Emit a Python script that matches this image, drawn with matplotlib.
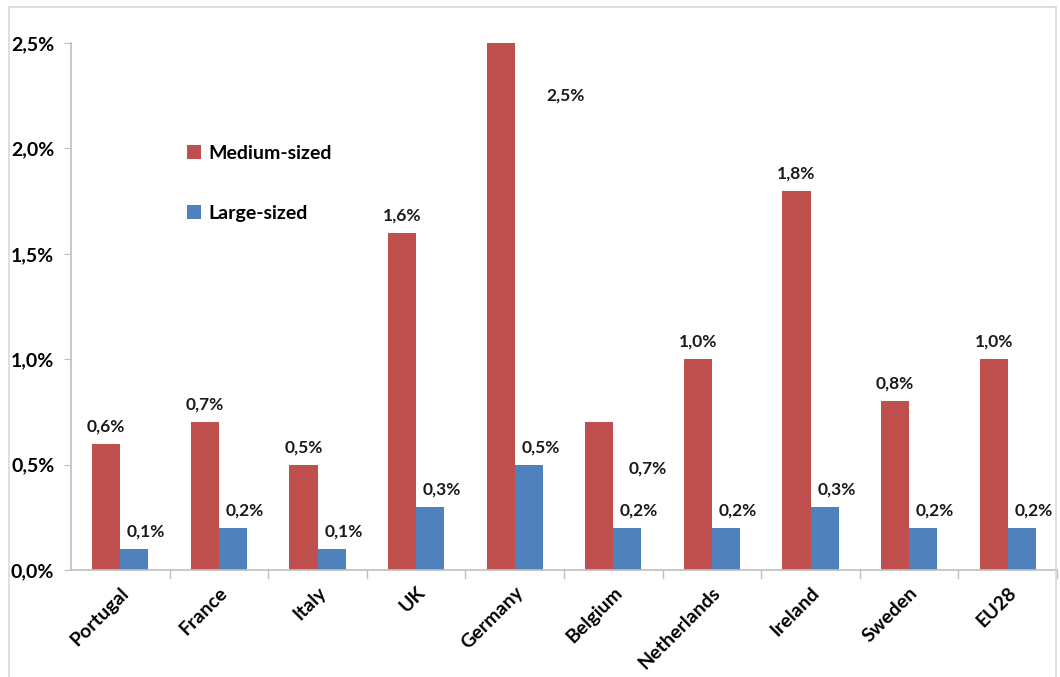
import matplotlib.pyplot as plt
import numpy as np
from matplotlib.patches import Rectangle

countries = ["Portugal", "France", "Italy", "UK", "Germany", "Belgium",
             "Netherlands", "Ireland", "Sweden", "EU28"]
medium = [0.6, 0.7, 0.5, 1.6, 2.5, 0.7, 1.0, 1.8, 0.8, 1.0]
large = [0.1, 0.2, 0.1, 0.3, 0.5, 0.2, 0.2, 0.3, 0.2, 0.2]
yticks = [0.0, 0.5, 1.0, 1.5, 2.0, 2.5]

RED = "#C0504D"
BLUE = "#4F81BD"
GRID = "#BFBFBF"
FONT = "Lato"

def pct(v):
    return f"{v:.1f}%".replace(".", ",")

fig = plt.figure(figsize=(10.6, 6.77), dpi=100)
fig.patches.append(Rectangle((9 / 1060, -0.01), 1047 / 1060, 1 - 7 / 677 + 0.01,
                             transform=fig.transFigure, fill=False,
                             edgecolor="#D9D9D9", linewidth=1.2))
ax = fig.add_axes([71 / 1060, 1 - 570 / 677, 986 / 1060, (570 - 43) / 677])

x = np.arange(len(countries))
w = 0.285
ax.bar(x - w / 2, medium, w, color=RED, label="Medium-sized")
ax.bar(x + w / 2, large, w, color=BLUE, label="Large-sized")

ax.set_xlim(-0.5, len(countries) - 0.5)
ax.set_ylim(0, 2.5)
ax.set_yticks(yticks)
ax.set_yticklabels([pct(v) for v in yticks], fontsize=14,
                   fontweight="bold", family=FONT)
ax.set_xticks(x)
ax.set_xticklabels(countries, rotation=45, ha="right", rotation_mode="anchor",
                   fontsize=14, fontweight="bold", family=FONT)
ax.tick_params(axis="x", length=0, pad=10)
ax.tick_params(axis="y", length=5, color=GRID, pad=7)
for b in np.arange(0.5, len(countries), 1.0):
    ax.plot([b, b], [0, -0.04], color=GRID, lw=1, clip_on=False)

for s in ["top", "right"]:
    ax.spines[s].set_visible(False)
for s in ["left", "bottom"]:
    ax.spines[s].set_color(GRID)
    ax.spines[s].set_linewidth(1.2)

lbl = dict(fontsize=12.5, fontweight="bold", family=FONT, color="#1a1a1a",
           ha="center")
for i, v in enumerate(medium):
    xi = i - w / 2
    if countries[i] == "Germany":
        ax.text(xi + 0.66, v - 0.25, pct(v), va="center", **lbl)
    elif countries[i] == "Belgium":
        ax.text(xi + 0.49, v - 0.22, pct(v), va="center", **lbl)
    else:
        ax.text(xi, v + 0.045, pct(v), va="bottom", **lbl)
for i, v in enumerate(large):
    ax.text(i + w / 2 + 0.12, v + 0.045, pct(v), va="bottom", **lbl)

ax.legend(loc="upper left", bbox_to_anchor=(0.1, 0.84), frameon=False,
          prop={"family": FONT, "weight": "bold", "size": 14},
          handlelength=0.7, handleheight=0.7, handletextpad=0.4,
          labelspacing=2.2)

fig.savefig("out.png", dpi=100)
